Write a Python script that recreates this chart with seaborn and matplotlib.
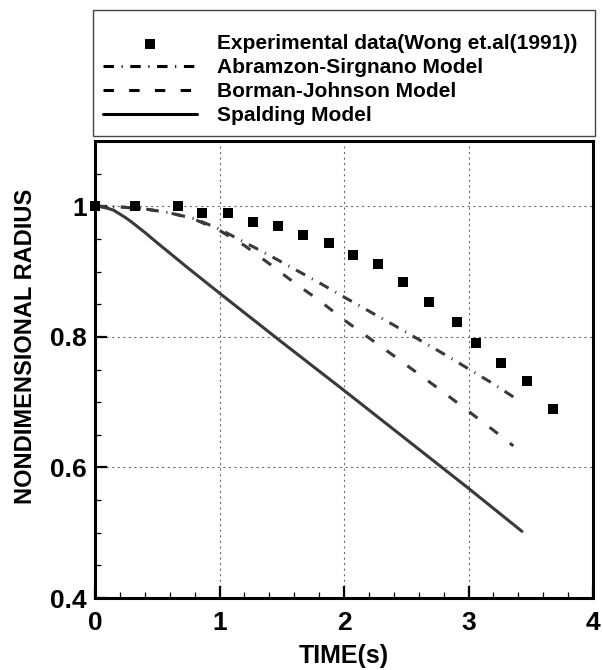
import numpy as np
import pandas as pd
import matplotlib
matplotlib.use('Agg')
import matplotlib.pyplot as plt
import seaborn as sns
from matplotlib.patches import Rectangle
from matplotlib.ticker import MultipleLocator, FixedLocator, FixedFormatter

# ---------------- data ----------------
exp_time = [0.0, 0.32, 0.67, 0.86, 1.07, 1.27, 1.47, 1.67, 1.88, 2.07, 2.27,
            2.47, 2.68, 2.91, 3.06, 3.26, 3.47, 3.68]
exp_radius = [1.0, 1.0, 1.0, 0.99, 0.99, 0.976, 0.97, 0.956, 0.943, 0.926, 0.912,
              0.884, 0.854, 0.823, 0.791, 0.760, 0.733, 0.690]

as_time = [0.0, 0.2, 0.4, 0.6, 0.8, 1.0, 1.2, 1.4, 1.6, 1.8, 2.0, 2.4, 2.8, 3.2, 3.36]
as_radius = [1.0, 0.999, 0.996, 0.99, 0.981, 0.965, 0.945, 0.925, 0.904, 0.883,
             0.861, 0.818, 0.774, 0.728, 0.708]

bj_time = [0.0, 0.2, 0.4, 0.6, 0.8, 1.0, 1.2, 1.4, 1.6, 1.8, 2.0, 2.4, 2.8, 3.2, 3.36]
bj_radius = [1.0, 0.999, 0.996, 0.99, 0.98, 0.963, 0.94, 0.912, 0.883, 0.856,
             0.826, 0.771, 0.715, 0.657, 0.633]

sp_time = [0.0, 0.05, 0.1, 0.15, 0.2, 0.25, 0.3, 0.4, 0.5, 0.75, 1.0, 1.5, 2.0,
           2.5, 3.0, 3.43]
sp_radius = [1.0, 0.999, 0.997, 0.994, 0.988, 0.982, 0.975, 0.96, 0.944, 0.905,
             0.867, 0.792, 0.718, 0.643, 0.568, 0.502]

labels = ['Experimental data(Wong et.al(1991))', 'Abramzon-Sirgnano Model',
          'Borman-Johnson Model', 'Spalding Model']

x_ticks = [0, 1, 2, 3, 4]
x_tick_labels = ['0', '1', '2', '3', '4']
y_ticks = [0.4, 0.6, 0.8, 1.0]
y_tick_labels = ['0.4', '0.6', '0.8', '1']

# ---------------- style ----------------
sns.set_style('white')
plt.rcParams['font.family'] = ['Liberation Sans', 'DejaVu Sans']
plt.rcParams['font.weight'] = 'bold'
plt.rcParams['lines.scale_dashes'] = False
for k in ['text.color', 'axes.labelcolor', 'xtick.color', 'ytick.color']:
    plt.rcParams[k] = 'black'

W, H = 603, 670
fig = plt.figure(figsize=(W / 100, H / 100), dpi=100)
ax = fig.add_axes([95 / W, 1 - 598 / H, 498 / W, 457 / H])

line_color = '#3a3a3a'
lw = 2.2

sns.lineplot(x=as_time, y=as_radius, ax=ax, color=line_color, lw=lw,
             linestyle=(0, (7.5, 5.5, 0.8, 5.5)), sort=False, estimator=None,
             label=labels[1])
sns.lineplot(x=bj_time, y=bj_radius, ax=ax, color=line_color, lw=lw,
             linestyle=(0, (7.5, 11.0)), sort=False, estimator=None,
             label=labels[2])
sns.lineplot(x=sp_time, y=sp_radius, ax=ax, color=line_color, lw=lw,
             linestyle='-', sort=False, estimator=None, label=labels[3])
sns.scatterplot(x=exp_time, y=exp_radius, ax=ax, marker='s', s=58,
                color='black', edgecolor='black', linewidth=0,
                label=labels[0], clip_on=False, zorder=5)

ax.set_xlim(0, 4)
ax.set_ylim(0.4, 1.1)
ax.xaxis.set_major_locator(FixedLocator(x_ticks))
ax.xaxis.set_major_formatter(FixedFormatter(x_tick_labels))
ax.yaxis.set_major_locator(FixedLocator(y_ticks))
ax.yaxis.set_major_formatter(FixedFormatter(y_tick_labels))
ax.xaxis.set_minor_locator(MultipleLocator(0.2))
ax.yaxis.set_minor_locator(MultipleLocator(0.05))

ax.tick_params(which='major', direction='in', length=8.6, width=1.6,
               labelsize=19, color='black', labelcolor='black',
               left=True, bottom=True)
ax.tick_params(axis='x', which='major', pad=9)
ax.tick_params(axis='y', which='major', pad=6)
ax.tick_params(which='minor', direction='in', length=4.3, width=0.9,
               color='black', left=True, bottom=True)
for lab in ax.get_xticklabels() + ax.get_yticklabels():
    lab.set_fontweight('bold')

for sp in ax.spines.values():
    sp.set_visible(True)
    sp.set_linewidth(2.2)
    sp.set_color('black')

ax.grid(True, which='major', color='#666666', lw=0.8, linestyle=(0, (1.5, 2.5)))
ax.set_axisbelow(True)

ax.set_xlabel('TIME(s)', fontsize=18, fontweight='bold', labelpad=7, color='black')
ax.set_ylabel('NONDIMENSIONAL RADIUS', fontsize=17, fontweight='bold', color='black')
ax.yaxis.set_label_coords(-0.117, 0.551)

# ---------------- legend ----------------
handles, labs = ax.get_legend_handles_labels()
order = [labs.index(l) for l in labels]
if ax.get_legend() is not None:
    ax.get_legend().remove()
fig.patches.append(Rectangle((93 / W, 1 - 136 / H), 502 / W, 126 / H,
                             transform=fig.transFigure, fill=False,
                             edgecolor='#444444', lw=1.0))
leg = fig.legend([handles[i] for i in order], [labs[i] for i in order],
                 loc='upper left', bbox_to_anchor=(103 / W, 1 - 34 / H),
                 borderaxespad=0, borderpad=0,
                 handlelength=4.5, handletextpad=0.96,
                 labelspacing=0.24, frameon=False,
                 prop={'weight': 'bold', 'size': 15})
for line in leg.get_lines():
    line.set_color('black')

fig.savefig('out.png', dpi=100)
